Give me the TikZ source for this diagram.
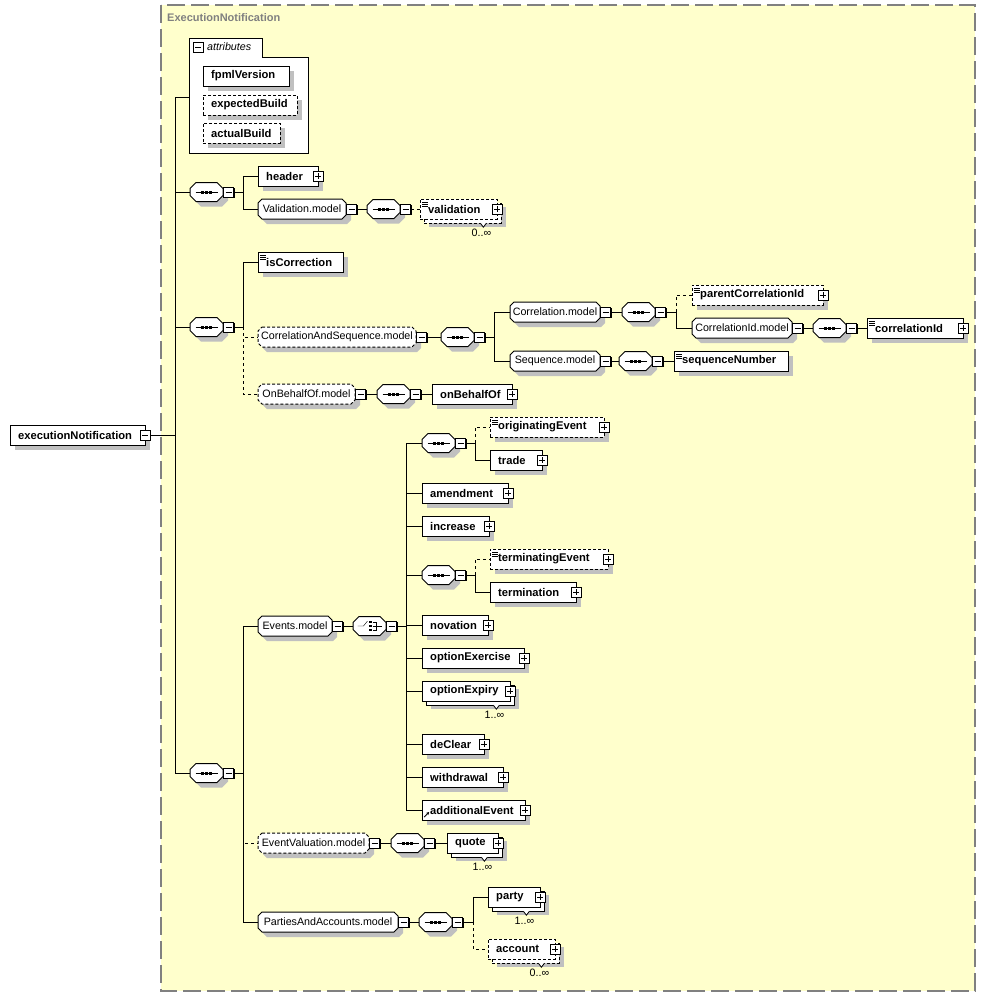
\documentclass[tikz,border=0pt]{standalone}
\usepackage{fontspec}
\setmainfont{Liberation Sans}
\usepackage{tikz}
\usetikzlibrary{shadows,positioning,arrows.meta}

\definecolor{diagbg}{HTML}{FFFFCC}
\definecolor{framegrey}{HTML}{808080}
\definecolor{shadegrey}{HTML}{C0C0C0}

\newcommand{\elfont}{\fontsize{11.2}{13}\selectfont\bfseries}
\newcommand{\grfont}{\fontsize{10.7}{12}\selectfont}

\pgfdeclarelayer{frame}
\pgfdeclarelayer{groupback}
\pgfsetlayers{frame,groupback,main}

\begin{document}
\begin{tikzpicture}[x=1pt, y=-1pt, line width=1pt,
    boxshadow/.style={drop shadow={shadow xshift=5pt, shadow yshift=-5pt, fill=shadegrey, opacity=1}},
    multi/.style={drop shadow={shadow xshift=9pt, shadow yshift=-8pt, fill=shadegrey, opacity=1},
        copy shadow={shadow xshift=4pt, shadow yshift=-4pt}},
    elbox/.style={draw, fill=white, anchor=west, minimum height=20pt, inner xsep=8pt, inner ysep=0pt,
        text width=#1pt, align=left, font=\elfont},
    elem/.style={elbox=#1, boxshadow},
    melem/.style={elbox=#1, multi},
    opt/.style={dash pattern=on 3pt off 2pt},
    optlink/.style={dash pattern=on 3pt off 3pt},
    grp/.style={rectangle, anchor=west, minimum width=#1pt, minimum height=20pt,
        inner sep=0pt, outer sep=0pt, font=\grfont},
    compo/.style={grp=33, minimum height=19pt},
    octo/.style={draw=black, fill=white, line width=1pt, boxshadow},
    seqsym/.style={path picture={
        \draw[black] ([xshift=-11pt]path picture bounding box.center) -- ([xshift=11pt]path picture bounding box.center);
        \foreach \d in {-4,0,4}
          \fill[black] ([xshift=\d pt]path picture bounding box.center) +(-1.5,-1.5) rectangle +(1.5,1.5);
    }},
    chsym/.style={path picture={
        \draw[black] ([shift={(-12,0)}]path picture bounding box.center) -- ++(6,0) -- ++(4,-5);
        \foreach \d in {-4,0,4}
          \fill[black] ([shift={(1,\d)}]path picture bounding box.center) +(-1.4,-1.4) rectangle +(1.4,1.4);
        \draw[black] ([shift={(3,-4)}]path picture bounding box.center) -- ++(4,0) -- ++(0,8) -- ++(-4,0)
          ++(0,-4) -- ++(9,0);
    }},
    pmbox/.style={draw, fill=white, solid, line width=1pt, minimum size=10pt, inner sep=0pt, anchor=center,
        drop shadow={shadow xshift=1pt, shadow yshift=-1pt, fill=black, opacity=1}},
    plusbox/.style={pmbox, path picture={
        \draw[black] ([xshift=2pt]path picture bounding box.west) -- ([xshift=-2pt]path picture bounding box.east)
          ([yshift=-2pt]path picture bounding box.north) -- ([yshift=2pt]path picture bounding box.south);}},
    minusbox/.style={pmbox, path picture={
        \draw[black] ([xshift=2pt]path picture bounding box.west) -- ([xshift=-2pt]path picture bounding box.east);}},
    withplus/.style={label={[plusbox]east:}},
    doc/.style={path picture={\foreach \k in {3,5,7}
        \draw[black, solid, line width=0.8pt] ([xshift=2pt, yshift=-\k pt]path picture bounding box.north west) -- ++(6,0);}},
    refel/.style={path picture={\draw[black, solid, line width=0.8pt, -{Stealth[length=3pt, width=3pt]}]
        ([shift={(2,-3)}]path picture bounding box.south west) -- ++(5,-5);}},
    card/.style={font=\grfont, inner sep=0pt, anchor=north east}]

    \useasboundingbox (0,0) rectangle (986,997);

    % Frame of the complex type
    \begin{pgfonlayer}{frame}
      \draw[framegrey, line width=1.5pt, dash pattern=on 18pt off 6pt, fill=diagbg] (161,5) rectangle (975,991);
    \end{pgfonlayer}
    \node[anchor=west, inner sep=0pt, text=framegrey, font=\fontsize{11}{13}\selectfont\bfseries] (title) at (167,18) {ExecutionNotification};

    % Attributes
    \draw[fill=white] (189,38) -- (262,38) -- (262,57) -- (308,57) -- (308,153) -- (189,153) -- cycle;
    \node[minusbox] (attr-m) at (198,47) {};
    \node[anchor=west, inner sep=0pt, font={\grfont\itshape}] (attr-t) at (207,47) {attributes};
    \coordinate (attr) at (189,97);
    \node[elem=70] (fpml) at (203,76) {fpmlVersion};
    \node[elem=78, opt] (expb) at (203,105) {expectedBuild};
    \node[elem=61, opt] (actb) at (203,133) {actualBuild};

    % Root element
    \node[elem=119] (en) at (10,435) {executionNotification};
    \node[minusbox] (en-m) at (en.east) {};

    % Header and validation
    \node[compo, seqsym] (s1) at (190,192) {};
    \node[minusbox, right=0pt of s1] (s1-m) {};
    \node[elem=44, withplus] (header) at (258,176) {header};
    \node[grp=88] (vmod) at (258,209) {Validation.model};
    \node[minusbox, right=0pt of vmod] (vmod-m) {};
    \node[compo, seqsym] (s2) at (367,209) {};
    \node[minusbox, right=0pt of s2] (s2-m) {};
    \node[melem=61, opt, doc, withplus] (valid) at (420,209) {validation};

    % Correction, correlation and sequence
    \node[compo, seqsym] (s3) at (190,327) {};
    \node[minusbox, right=0pt of s3] (s3-m) {};
    \node[elem=69, doc] (iscorr) at (258,262) {isCorrection};
    \node[grp=158] (corrseq) at (258,337) {CorrelationAndSequence.model};
    \node[minusbox, right=0pt of corrseq] (corrseq-m) {};
    \node[compo, seqsym] (s4) at (441,337) {};
    \node[minusbox, right=0pt of s4] (s4-m) {};
    \node[grp=90] (corrm) at (510,312) {Correlation.model};
    \node[minusbox, right=0pt of corrm] (corrm-m) {};
    \node[compo, seqsym] (s5) at (622,312) {};
    \node[minusbox, right=0pt of s5] (s5-m) {};
    \node[elem=115, opt, doc, withplus] (pcid) at (692,295) {parentCorrelationId};
    \node[grp=100] (cidm) at (692,328) {CorrelationId.model};
    \node[minusbox, right=0pt of cidm] (cidm-m) {};
    \node[compo, seqsym] (s6) at (813,328) {};
    \node[minusbox, right=0pt of s6] (s6-m) {};
    \node[elem=80, doc, withplus] (cid) at (867,328) {correlationId};
    \node[grp=90] (seqm) at (510,361) {Sequence.model};
    \node[minusbox, right=0pt of seqm] (seqm-m) {};
    \node[compo, seqsym] (s7) at (619,361) {};
    \node[minusbox, right=0pt of s7] (s7-m) {};
    \node[elem=98, doc] (seqnum) at (674,361) {sequenceNumber};
    \node[grp=97] (obo) at (258,394) {OnBehalfOf.model};
    \node[minusbox, right=0pt of obo] (obo-m) {};
    \node[compo, seqsym] (s8) at (377,394) {};
    \node[minusbox, right=0pt of s8] (s8-m) {};
    \node[elem=64, withplus] (onbehalf) at (432,394) {onBehalfOf};

    % Events
    \node[compo, seqsym] (s9) at (190,773) {};
    \node[minusbox, right=0pt of s9] (s9-m) {};
    \node[grp=74] (evm) at (258,626) {Events.model};
    \node[minusbox, right=0pt of evm] (evm-m) {};
    \node[compo, chsym] (ch) at (353,626) {};
    \node[minusbox, right=0pt of ch] (ch-m) {};
    \node[compo, seqsym] (s10) at (422,443) {};
    \node[minusbox, right=0pt of s10] (s10-m) {};
    \node[elem=98, opt, doc, withplus] (origev) at (490,427) {originatingEvent};
    \node[elem=36, withplus] (trade) at (490,460) {trade};
    \node[compo, seqsym] (s11) at (422,575) {};
    \node[minusbox, right=0pt of s11] (s11-m) {};
    \node[elem=102, opt, doc, withplus] (termev) at (490,559) {terminatingEvent};
    \node[elem=70, withplus] (term) at (490,592) {termination};
    \foreach \n/\t/\w/\y in {amend/amendment/70/493, incr/increase/51/526, nov/novation/50/625,
        optex/optionExercise/86/658, declear/deClear/46/744, withdr/withdrawal/65/777}
      \node[elem=\w, withplus] (\n) at (422,\y) {\t};
    \node[melem=72, withplus] (optexp) at (422,691) {optionExpiry};
    \node[elem=87, withplus, refel] (addev) at (422,810) {additionalEvent};

    % Valuation, parties and accounts
    \node[grp=111] (evalm) at (258,843) {EventValuation.model};
    \node[minusbox, right=0pt of evalm] (evalm-m) {};
    \node[compo, seqsym] (s12) at (391,843) {};
    \node[minusbox, right=0pt of s12] (s12-m) {};
    \node[melem=35, withplus] (quote) at (447,843) {quote};
    \node[grp=140] (pam) at (258,922) {PartiesAndAccounts.model};
    \node[minusbox, right=0pt of pam] (pam-m) {};
    \node[compo, seqsym] (s13) at (419,922) {};
    \node[minusbox, right=0pt of s13] (s13-m) {};
    \node[melem=36, withplus] (party) at (488,897) {party};
    \node[melem=51, opt, withplus] (account) at (488,949) {account};

    % Octagons behind model groups and compositors
    \begin{pgfonlayer}{groupback}
      \foreach \n/\c in {vmod/4, corrm/4, cidm/4, seqm/4, evm/4, pam/4,
          s1/6, s2/6, s3/6, s4/6, s5/6, s6/6, s7/6, s8/6, s9/6, s10/6, s11/6, s12/6, s13/6, ch/6}
        \draw[octo] ([xshift=\c pt]\n.north west) -- ([xshift=-\c pt]\n.north east)
          -- ([yshift=-\c pt]\n.north east) -- ([yshift=\c pt]\n.south east) -- ([xshift=-\c pt]\n.south east)
          -- ([xshift=\c pt]\n.south west) -- ([yshift=\c pt]\n.south west) -- ([yshift=-\c pt]\n.north west) -- cycle;
      \foreach \n/\c in {corrseq/4, obo/4, evalm/4}
        \draw[octo, opt] ([xshift=\c pt]\n.north west) -- ([xshift=-\c pt]\n.north east)
          -- ([yshift=-\c pt]\n.north east) -- ([yshift=\c pt]\n.south east) -- ([xshift=-\c pt]\n.south east)
          -- ([xshift=\c pt]\n.south west) -- ([yshift=\c pt]\n.south west) -- ([yshift=-\c pt]\n.north west) -- cycle;
    \end{pgfonlayer}

    % Occurrences
    \foreach \n in {valid, optexp, quote, party, account}
      \draw[line width=0.8pt, fill=white] ([shift={(-17,4)}]\n.south east) -- ++(3,4) -- ++(3,-4);
    \foreach \n/\c in {valid/0..∞, optexp/1..∞, quote/1..∞, party/1..∞, account/0..∞}
      \node[card] (\n-c) at ([shift={(-6,10)}]\n.south east) {\c};

    % Connectors
    \draw (en-m.east) -- ++(24,0) coordinate (t0);
    \foreach \n in {attr, s1.west, s3.west, s9.west}
      \draw (t0) |- (\n);

    \draw (s1-m.east) -- ++(9,0) coordinate (b1);
    \foreach \n in {header, vmod}
      \draw (b1) |- (\n.west);
    \draw (vmod-m) -- (s2);
    \draw[optlink] (s2-m) -- (valid);

    \draw (s3-m.east) -- ++(9,0) coordinate (b3);
    \draw (b3) |- (iscorr.west);
    \foreach \n in {corrseq, obo}
      \draw[optlink] (b3) |- (\n.west);
    \draw (corrseq-m) -- (s4);
    \draw (s4-m.east) -- ++(9,0) coordinate (b4);
    \foreach \n in {corrm, seqm}
      \draw (b4) |- (\n.west);
    \draw (corrm-m) -- (s5);
    \draw (s5-m.east) -- ++(10,0) coordinate (b5);
    \draw[optlink] (b5) |- (pcid.west);
    \draw (b5) |- (cidm.west);
    \draw (cidm-m) -- (s6);
    \draw (s6-m) -- (cid);
    \draw (seqm-m) -- (s7);
    \draw (s7-m) -- (seqnum);
    \draw (obo-m) -- (s8);
    \draw (s8-m) -- (onbehalf);

    \draw (s9-m.east) -- ++(9,0) coordinate (b9);
    \foreach \n in {evm, pam}
      \draw (b9) |- (\n.west);
    \draw[optlink] (b9) |- (evalm.west);
    \draw (evm-m) -- (ch);
    \draw (ch-m.east) -- ++(9,0) coordinate (bc);
    \foreach \n in {s10, amend, incr, s11, nov, optex, optexp, declear, withdr, addev}
      \draw (bc) |- (\n.west);
    \draw (s10-m.east) -- ++(9,0) coordinate (b10);
    \draw[optlink] (b10) |- (origev.west);
    \draw (b10) |- (trade.west);
    \draw (s11-m.east) -- ++(9,0) coordinate (b11);
    \draw[optlink] (b11) |- (termev.west);
    \draw (b11) |- (term.west);
    \draw (evalm-m) -- (s12);
    \draw (s12-m) -- (quote);
    \draw (pam-m) -- (s13);
    \draw (s13-m.east) -- ++(10,0) coordinate (b13);
    \draw (b13) |- (party.west);
    \draw[optlink] (b13) |- (account.west);
\end{tikzpicture}
\end{document}
